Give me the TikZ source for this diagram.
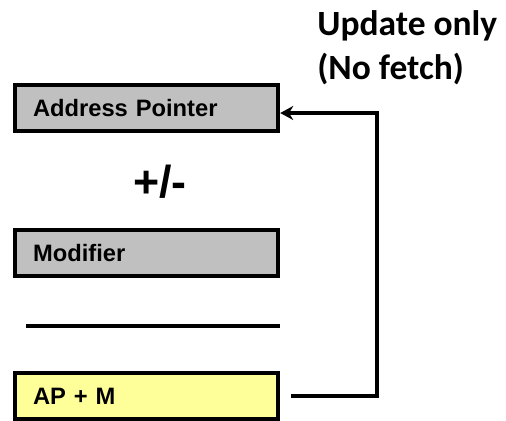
\documentclass[tikz,border=0pt]{standalone}
\usepackage{fontspec}
\setmainfont{Liberation Sans}
\newfontfamily\calibrifont{Carlito}
\usetikzlibrary{arrows.meta}
\definecolor{boxgray}{HTML}{C0C0C0}
\definecolor{boxyellow}{HTML}{FFFF99}
\tikzset{
  reg/.style={draw=black, line width=0.09cm, minimum width=5.26cm, minimum height=0.92cm,
    text width=4.54cm, align=left, inner xsep=0.36cm, font=\bfseries\fontsize{13.5}{15}\selectfont},
  link/.style={line width=0.09cm, -{Stealth[length=0.26cm, width=0.28cm]}}
}
\begin{document}
\begin{tikzpicture}[x=0.02cm, y=-0.02cm]
\useasboundingbox (0,0) rectangle (506,420);
\node[reg, fill=boxgray] (ap) at (146.5,108) {Address Pointer};
\node[font=\bfseries\fontsize{25.5}{28}\selectfont, inner sep=0] (pm) at (160,182) {+/-};
\node[reg, fill=boxgray] (mod) at (146.5,253) {Modifier};
\draw[line width=0.065cm] (26,326) -- (280,326);
\node[reg, fill=boxyellow] (apm) at (146.5,396) {AP + M};
\node[anchor=north west, inner sep=0, align=left,
  font=\calibrifont\bfseries\fontsize{20.2}{25}\selectfont] (upd) at (317,10) {Update only\\(No fetch)};
\coordinate (bend) at (377,113);
\draw[link, shorten <=0.22cm] (apm.east) -| (bend) -- (bend -| ap.east);
\end{tikzpicture}
\end{document}
